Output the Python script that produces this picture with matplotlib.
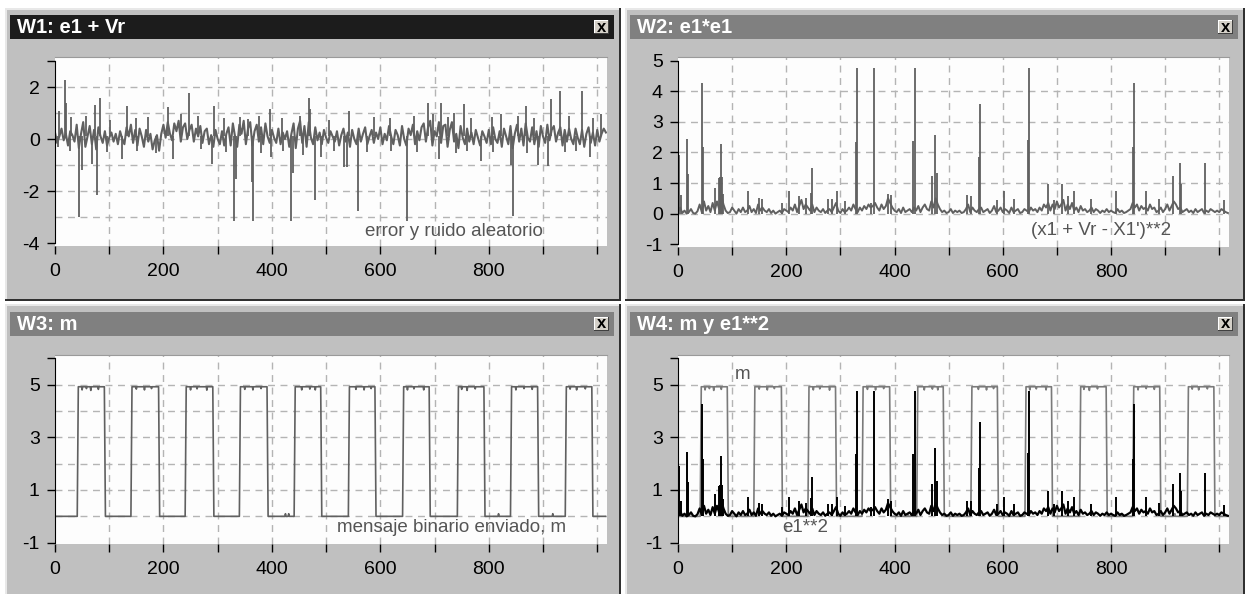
import matplotlib
matplotlib.use("Agg")
import matplotlib.pyplot as plt
from matplotlib.patches import Rectangle

plt.rcParams['font.family'] = ['Liberation Sans', 'DejaVu Sans']

W, H = 1247, 594

# e1 + Vr, one value every 4 samples (0..1016)
vr_base = [
    0.25, -0.15, 0.1, 0.4, -0.05, 0.2, -0.25, 0.3, 0.15, -0.1,
    0.55, -0.35, 0.2, 0.65, -0.3, 0.1, 0.5, -0.2, 0.35, -0.4,
    0.45, 0.1, -0.15, 0.3, -0.25, 0.05, 0.25, -0.1, 0.2, -0.2,
    0.3, 0.0, -0.2, 0.45, 0.1, 0.55, -0.15, 0.35, -0.25, 0.4,
    0.1, -0.3, 0.35, -0.1, 0.2, -0.4, -0.05, 0.15, -0.45, 0.2,
    0.55, 0.05, 0.65, 0.2, -0.05, 0.6, 0.3, 0.7, -0.1, 0.45,
    0.6, 0.0, 0.35, 0.55, -0.1, 0.4, 0.1, 0.5, -0.15, 0.3,
    0.4, -0.2, 0.15, -0.3, 0.35, 0.0, -0.2, 0.3, -0.25, 0.2,
    0.45, -0.25, 0.6, 0.1, -0.3, 0.55, 0.2, 0.7, -0.2, 0.4,
    0.65, -0.25, 0.3, 0.55, -0.1, 0.45, -0.2, 0.6, 0.1, -0.15,
    0.35, 0.05, -0.15, 0.4, -0.2, 0.25, 0.0, 0.3, -0.3, 0.2,
    0.6, -0.35, 0.4, 0.7, -0.15, 0.5, -0.3, 0.65, 0.05, -0.2,
    0.45, -0.05, 0.25, -0.2, 0.35, 0.05, -0.15, 0.3, 0.1, -0.1,
    0.3, -0.25, 0.15, 0.4, -0.1, 0.25, -0.3, 0.35, 0.0, -0.2,
    0.4, -0.1, 0.2, 0.45, -0.2, 0.1, 0.35, -0.15, 0.25, 0.0,
    0.45, -0.2, 0.2, -0.05, 0.5, 0.1, -0.2, 0.35, 0.15, -0.25,
    0.5, 0.0, -0.25, 0.4, 0.15, 0.55, -0.2, 0.3, -0.05, 0.45,
    0.6, -0.1, 0.45, 0.7, -0.25, 0.3, 0.1, 0.65, -0.15, 0.5,
    0.55, -0.3, 0.35, 0.65, -0.1, 0.2, -0.35, 0.5, 0.05, -0.2,
    0.4, -0.1, 0.25, -0.2, 0.35, 0.05, -0.25, 0.3, 0.1, -0.15,
    0.35, -0.2, 0.45, 0.0, -0.15, 0.3, -0.3, 0.4, 0.1, -0.2,
    0.5, -0.35, 0.2, 0.55, -0.1, 0.4, -0.25, 0.6, 0.05, -0.1,
    0.45, -0.2, 0.3, -0.3, 0.5, 0.1, -0.15, 0.55, -0.05, 0.35,
    0.5, -0.1, 0.25, 0.45, -0.25, 0.35, -0.1, 0.4, 0.0, -0.2,
    0.4, 0.05, -0.2, 0.35, -0.3, 0.2, 0.45, -0.15, 0.25, -0.25,
    0.35, -0.1, 0.2, 0.4, 0.25,
]
vr_spikes = [
    (6, -0.29), (8, 1.08), (19, 2.27), (21, 1.4), (27, -0.45), (30, 0.85),
    (45, -2.99), (50, -1.2), (58, 0.9), (68, -0.97), (73, 1.3), (78, -2.14),
    (83, 1.57), (95, -0.5), (101, 0.75), (124, -0.78), (132, 1.27),
    (150, 0.8), (152, -0.45), (171, 0.85), (186, -0.55), (208, 1.23),
    (218, -0.78), (232, 0.95), (247, 1.77), (263, 0.9), (270, -0.4),
    (289, -0.97), (294, 1.27), (312, 0.8), (315, -0.5), (331, -3.14),
    (333, -1.52), (341, 0.85), (356, 0.78), (363, -1.65), (366, -3.14),
    (377, 0.9), (380, -0.55), (396, 1.14), (398, -0.68), (418, 0.8),
    (420, -0.45), (436, -3.14), (438, -1.32), (452, 0.9), (458, -0.6),
    (468, 1.57), (470, 1.15), (479, -2.34), (490, -0.68), (505, 0.75),
    (515, -0.45), (533, -1.06), (538, -1.06), (542, 1.08), (559, -2.78),
    (575, -0.5), (588, 0.85), (617, 0.8), (620, -0.45), (649, -3.14),
    (662, 0.9), (668, -0.5), (687, 1.4), (698, 0.95), (708, -0.78),
    (712, 1.38), (724, 0.85), (735, 1.0), (740, -0.55), (755, 1.34),
    (760, -0.45), (768, 0.8), (785, -0.84), (806, 0.85), (808, -0.5),
    (823, 0.95), (841, -1.0), (844, -2.97), (853, 0.9), (869, 1.27),
    (870, -0.55), (884, 0.8), (891, -1.0), (909, -1.03), (914, 1.53),
    (931, 1.83), (940, -0.5), (947, 0.9), (960, -0.45), (972, 1.83),
    (986, -0.68), (992, 0.8), (1007, 0.95),
]
vr_floor = 0.1

# e1**2, one value every 4 samples, plus the tall spikes
sq_base = [
    0.05, 0.2, 0.02, 0.1, 0.0, 0.05, 0.15, 0.02, 0.0, 0.08,
    0.3, 0.05, 0.4, 0.1, 0.25, 0.05, 0.35, 0.1, 0.4, 0.15,
    0.6, 0.3, 0.1, 0.02, 0.05, 0.2, 0.1, 0.0, 0.15, 0.05,
    0.2, 0.05, 0.1, 0.25, 0.05, 0.15, 0.02, 0.3, 0.1, 0.2,
    0.1, 0.05, 0.15, 0.02, 0.1, 0.0, 0.05, 0.1, 0.02, 0.15,
    0.1, 0.05, 0.2, 0.1, 0.3, 0.05, 0.25, 0.45, 0.15, 0.3,
    0.2, 0.1, 0.3, 0.05, 0.2, 0.1, 0.05, 0.15, 0.02, 0.1,
    0.15, 0.05, 0.2, 0.35, 0.1, 0.02, 0.15, 0.05, 0.1, 0.2,
    0.1, 0.3, 0.15, 0.05, 0.2, 0.1, 0.25, 0.15, 0.3, 0.2,
    0.25, 0.35, 0.2, 0.1, 0.3, 0.15, 0.25, 0.5, 0.35, 0.2,
    0.1, 0.05, 0.15, 0.02, 0.2, 0.05, 0.1, 0.15, 0.05, 0.2,
    0.1, 0.25, 0.05, 0.2, 0.3, 0.15, 0.1, 0.4, 0.2, 0.5,
    0.3, 0.15, 0.05, 0.1, 0.02, 0.05, 0.15, 0.02, 0.1, 0.05,
    0.1, 0.02, 0.05, 0.15, 0.3, 0.05, 0.2, 0.1, 0.05, 0.15,
    0.2, 0.05, 0.1, 0.15, 0.02, 0.1, 0.25, 0.05, 0.1, 0.2,
    0.05, 0.15, 0.1, 0.02, 0.2, 0.05, 0.1, 0.15, 0.02, 0.05,
    0.15, 0.1, 0.05, 0.2, 0.1, 0.15, 0.05, 0.2, 0.1, 0.3,
    0.2, 0.35, 0.1, 0.3, 0.15, 0.4, 0.2, 0.3, 0.45, 0.1,
    0.3, 0.15, 0.35, 0.1, 0.2, 0.05, 0.25, 0.1, 0.15, 0.05,
    0.1, 0.2, 0.05, 0.15, 0.1, 0.02, 0.1, 0.05, 0.15, 0.05,
    0.1, 0.05, 0.02, 0.15, 0.05, 0.1, 0.02, 0.05, 0.1, 0.15,
    0.35, 0.2, 0.3, 0.1, 0.25, 0.15, 0.2, 0.1, 0.3, 0.15,
    0.2, 0.05, 0.1, 0.2, 0.05, 0.15, 0.3, 0.1, 0.25, 0.4,
    0.3, 0.15, 0.2, 0.05, 0.1, 0.15, 0.05, 0.1, 0.02, 0.15,
    0.05, 0.1, 0.15, 0.02, 0.1, 0.05, 0.15, 0.1, 0.05, 0.1,
    0.05, 0.15, 0.1, 0.05, 0.02,
]
sq_spikes = [
    (1, 1.91), (5, 0.6), (17, 2.45), (19, 1.29), (44, 4.28), (46, 2.18),
    (69, 0.85), (75, 1.15), (77, 1.2), (79, 2.29), (81, 1.2), (83, 0.65),
    (129, 0.74), (150, 0.5), (156, 0.47), (193, 0.35), (206, 0.74),
    (223, 0.57), (236, 0.5), (245, 0.68), (247, 1.5), (278, 0.47),
    (285, 0.47), (293, 0.74), (309, 0.41), (328, 2.35), (330, 4.75),
    (357, 0.35), (363, 4.75), (388, 0.65), (393, 0.6), (435, 2.38),
    (437, 4.75), (469, 1.22), (475, 2.58), (478, 1.33), (534, 0.6),
    (542, 0.57), (556, 1.85), (558, 3.58), (590, 0.46), (602, 0.74),
    (620, 0.47), (646, 2.42), (648, 4.75), (683, 0.98), (694, 0.46),
    (709, 0.98), (720, 0.57), (731, 0.74), (763, 0.48), (810, 0.74),
    (840, 2.18), (842, 4.28), (864, 0.74), (889, 0.49), (914, 1.22),
    (928, 1.64), (930, 0.98), (973, 1.64), (1009, 0.44),
]

# binary message m: rising / falling edge samples and plateau level
m_rise = [42, 141, 241, 341, 442, 542, 642, 743, 841, 942]
m_fall = [92, 192, 292, 392, 491, 591, 691, 792, 891, 991]
m_top = 4.92
m_mid = 2.5
m_len = 1016
m_ripple = [
    (50, 4.8), (58, 4.85), (66, 4.78), (80, 4.82), (150, 4.83), (165, 4.8),
    (178, 4.85), (250, 4.8), (262, 4.84), (280, 4.79), (350, 4.82),
    (365, 4.8), (380, 4.85), (455, 4.8), (470, 4.83), (480, 4.8),
    (555, 4.82), (570, 4.8), (583, 4.85), (650, 4.8), (662, 4.84),
    (680, 4.8), (750, 4.82), (760, 4.78), (775, 4.84), (850, 4.8),
    (865, 4.85), (880, 4.82), (950, 4.83), (962, 4.8), (978, 4.84),
]
m_bumps = [(425, 0.1), (431, 0.1), (818, 0.1), (918, 0.1)]

x_ticks = [0, 100, 200, 300, 400, 500, 600, 700, 800, 900, 1000]
x_labels = ["0", "", "200", "", "400", "", "600", "", "800", "", ""]
x_max = 1018


def build_m():
    m = [0.0] * m_len
    for r, f in zip(m_rise, m_fall):
        m[r] = m_mid
        for i in range(r + 1, f):
            m[i] = m_top
        m[f] = m_mid
    for i, v in m_ripple + m_bumps:
        m[i] = v
    return list(range(m_len)), m


def fbox(x0, y0, x1, y1):
    return [x0 / W, 1 - y1 / H, (x1 - x0) / W, (y1 - y0) / H]


def rect(x0, y0, x1, y1, color):
    fig.add_artist(Rectangle((x0 / W, 1 - y1 / H), (x1 - x0) / W, (y1 - y0) / H,
                             transform=fig.transFigure, facecolor=color,
                             edgecolor='none', zorder=-5))


def window(x0, y0, x1, y1, ty, title, active):
    # raised frame: light top/left, dark bottom/right
    rect(x0, y0, x1, y1, '#303030')
    rect(x0, y0, x1 - 2, y1 - 2, '#e8e8e8')
    rect(x0 + 2, y0 + 2, x1 - 2, y1 - 2, '#c0c0c0')
    bar = '#1c1c1c' if active else '#808080'
    rect(x0 + 5, ty, x1 - 7, ty + 24, bar)
    fig.text((x0 + 12) / W, 1 - (ty + 12.5) / H, title, color='white',
             fontsize=14.5, fontweight='bold', va='center', ha='left')
    # close button
    bx1 = x1 - 12
    rect(bx1 - 15, ty + 5, bx1, ty + 19, '#404040')
    rect(bx1 - 15, ty + 5, bx1 - 1, ty + 18, '#ffffff')
    rect(bx1 - 14, ty + 6, bx1 - 1, ty + 18, '#d4d0c8')
    fig.text((bx1 - 7.5) / W, 1 - (ty + 12) / H, 'x', color='black',
             fontsize=12, fontweight='bold', va='center', ha='center')


def panel(box, ylim, yticks, ylabels, ygrid):
    ax = fig.add_axes(fbox(*box))
    ax.set_facecolor('#fdfdfd')
    ax.set_xlim(0, x_max)
    ax.set_ylim(*ylim)
    for s in ['right', 'bottom']:
        ax.spines[s].set_visible(False)
    ax.spines['top'].set_color('#9a9a9a')
    ax.spines['left'].set_bounds(min(yticks), max(yticks))
    ax.spines['left'].set_color('black')
    ax.set_yticks(yticks, ylabels)
    ax.set_xticks(x_ticks, x_labels)
    ax.tick_params(direction='out', length=6, width=1, labelsize=14,
                   colors='black')
    ax.tick_params(axis='x', pad=6)
    ax.tick_params(axis='y', pad=5)
    for g in ygrid:
        ax.axhline(g, color='#b4b4b4', lw=1, ls=(0, (5, 4)), zorder=0)
    for g in x_ticks[1:]:
        ax.axvline(g, color='#b4b4b4', lw=1, ls=(0, (5, 4)), zorder=0)
    return ax


def spikes(ax, pts, floor, color, lw):
    xs = [p[0] for p in pts]
    ys = [p[1] for p in pts]
    ax.vlines(xs, floor, ys, color=color, lw=lw)


fig = plt.figure(figsize=(W / 100, H / 100), dpi=100)
fig.patch.set_facecolor('white')

window(5, 8, 621, 301, 15, 'W1: e1 + Vr', True)
window(625, 8, 1245, 301, 15, 'W2: e1*e1', False)
window(5, 304, 621, 600, 312, 'W3: m', False)
window(625, 304, 1245, 600, 312, 'W4: m y e1**2', False)

vr_x = list(range(0, 4 * len(vr_base), 4))
sq_x = list(range(0, 4 * len(sq_base), 4))
m_x, m_y = build_m()

ax1 = panel((55, 57, 607, 246), (-4.115, 3.154), [3, 2, 0, -2, -4],
            ['', '2', '0', '-2', '-4'], [2, 1, 0, -1, -2, -3])
ax1.plot(vr_x, vr_base, color='#606060', lw=1.5)
spikes(ax1, vr_spikes, vr_floor, '#606060', 1.3)
ax1.text(571, -3.56, 'error y ruido aleatorio', color='#555555', fontsize=13.5,
         va='center')

ax2 = panel((678, 57, 1229, 247), (-1.09, 5.12), [5, 4, 3, 2, 1, 0, -1],
            ['5', '4', '3', '2', '1', '0', '-1'], [4, 3, 2, 1, 0])
ax2.plot(sq_x, sq_base, color='#606060', lw=1.4)
spikes(ax2, sq_spikes, 0, '#606060', 1.3)
ax2.text(652, -0.55, "(x1 + Vr - X1')**2", color='#555555', fontsize=13.5,
         va='center')

ax3 = panel((55, 355, 607, 544), (-1.05, 6.125), [6, 5, 3, 1, -1],
            ['', '5', '3', '1', '-1'], [5, 4, 3, 2, 1, 0])
ax3.plot(m_x, m_y, color='#606060', lw=1.2)
ax3.text(520, -0.44, 'mensaje binario enviado, m', color='#555555',
         fontsize=13.5, va='center')

ax4 = panel((678, 355, 1229, 544), (-1.05, 6.125), [6, 5, 3, 1, -1],
            ['', '5', '3', '1', '-1'], [5, 4, 3, 2, 1, 0])
ax4.plot(m_x, m_y, color='#7a7a7a', lw=1.2)
ax4.plot(sq_x, sq_base, color='black', lw=1.6)
spikes(ax4, sq_spikes, 0, 'black', 1.4)
ax4.text(105, 5.38, 'm', color='#555555', fontsize=13.5, va='center')
ax4.text(193, -0.44, 'e1**2', color='#555555', fontsize=13.5, va='center')

fig.savefig('out.png', dpi=100, facecolor=fig.get_facecolor())
